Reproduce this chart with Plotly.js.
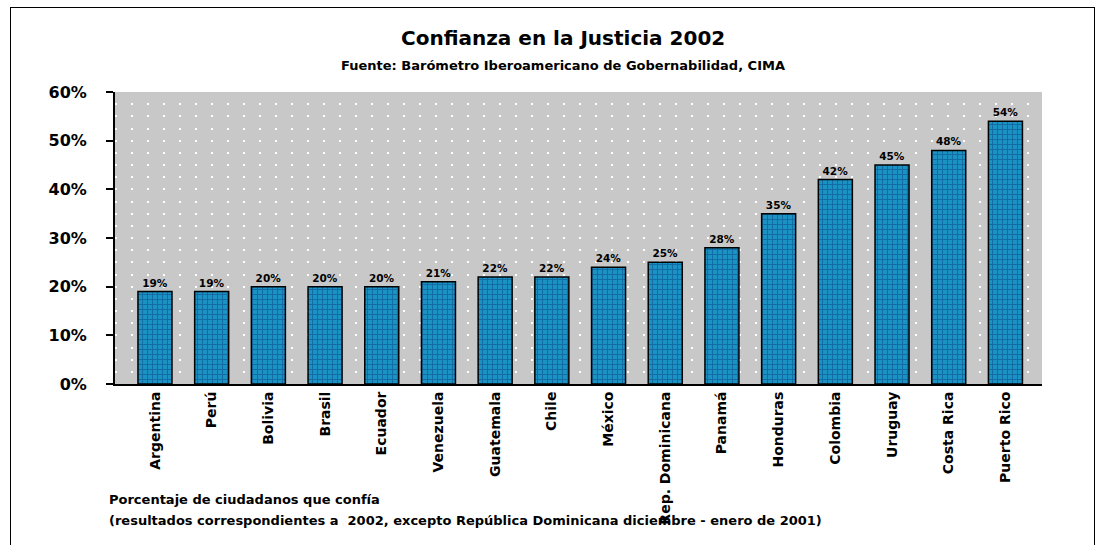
<!DOCTYPE html>
<html>
<head>
<meta charset="utf-8">
<script src="https://cdn.plot.ly/plotly-3.0.1.min.js"></script>
<style>
html,body{margin:0;padding:0;background:#fff;}
#wrap{position:relative;width:1102px;height:545px;}
#chart{width:1102px;height:545px;}
#frame{position:absolute;left:10px;top:7px;width:1083px;height:560px;border:1px solid #000;pointer-events:none;}
</style>
</head>
<body>
<div id="wrap"><div id="chart"></div><div id="frame"></div></div>
<script>
const countries = ["Argentina","Perú","Bolivia","Brasil","Ecuador","Venezuela","Guatemala","Chile","México","Rep. Dominicana","Panamá","Honduras","Colombia","Uruguay","Costa Rica","Puerto Rico"];
const confidence = [19,19,20,20,20,21,22,22,24,25,28,35,42,45,48,54];
const yTicks = [0,10,20,30,40,50,60];
const titleText = "Confianza en la Justicia 2002";
const subtitleText = "Fuente: Barómetro Iberoamericano de Gobernabilidad, CIMA";
const noteLine1 = "Porcentaje de ciudadanos que confía";
const noteLine2 = "(resultados correspondientes a  2002, excepto República Dominicana diciembre - enero de 2001)";

const F = "DejaVu Sans, Verdana, sans-serif";

const trace = {
  type: "bar",
  x: countries,
  y: confidence,
  marker: {
    color: "#1a8fc2",
    line: {color: "#000", width: 1.5},
    pattern: {shape: "+", fgcolor: "#136aa3", bgcolor: "#1b92c4", size: 5, solidity: 0.35}
  },
  text: confidence.map(v => v + "%"),
  texttemplate: "%{text}",
  textposition: "outside",
  textfont: {family: F, size: 10.5, color: "#000", weight: "bold"},
  cliponaxis: false,
  hoverinfo: "skip"
};

const layout = {
  width: 1102, height: 545,
  margin: {l: 115, r: 60, t: 92, b: 161},
  paper_bgcolor: "#fff",
  plot_bgcolor: "#c8c8c8",
  showlegend: false,
  bargap: 0.4,
  font: {family: F, color: "#000"},
  xaxis: {
    type: "category",
    range: [-0.705, 15.645],
    tickangle: -90,
    tickfont: {family: F, size: 14, weight: "bold"},
    showline: true, linecolor: "#000", linewidth: 2,
    ticks: "", showgrid: false, zeroline: false,
    fixedrange: true
  },
  yaxis: {
    range: [0, 60],
    tickvals: yTicks,
    ticktext: yTicks.map(v => v + "%"),
    tickfont: {family: F, size: 16, weight: "bold"},
    ticks: "outside", ticklen: 7, tickwidth: 2, tickcolor: "#000",
    showline: true, linecolor: "#000", linewidth: 2,
    showgrid: true, gridcolor: "#ffffff", gridwidth: 2, griddash: "2px,14px",
    minor: {dtick: 2.5, showgrid: true, gridcolor: "#ffffff", gridwidth: 2, griddash: "2px,14px"},
    zeroline: false,
    ticklabelstandoff: 16,
    fixedrange: true
  },
  annotations: [
    {text: titleText, xref: "paper", yref: "paper", x: 0.483, y: 1.185, xanchor: "center", yanchor: "middle", showarrow: false, font: {family: F, size: 20, weight: "bold"}},
    {text: subtitleText, xref: "paper", yref: "paper", x: 0.483, y: 1.092, xanchor: "center", yanchor: "middle", showarrow: false, font: {family: F, size: 13, weight: "bold"}},
    {text: noteLine1, xref: "paper", yref: "paper", x: -0.009, y: -0.397, xanchor: "left", yanchor: "middle", showarrow: false, font: {family: F, size: 13, weight: "bold"}},
    {text: noteLine2, xref: "paper", yref: "paper", x: -0.009, y: -0.469, xanchor: "left", yanchor: "middle", showarrow: false, font: {family: F, size: 13, weight: "bold"}}
  ]
};

Plotly.newPlot("chart", [trace], layout, {displayModeBar: false, staticPlot: true});
</script>
</body>
</html>
